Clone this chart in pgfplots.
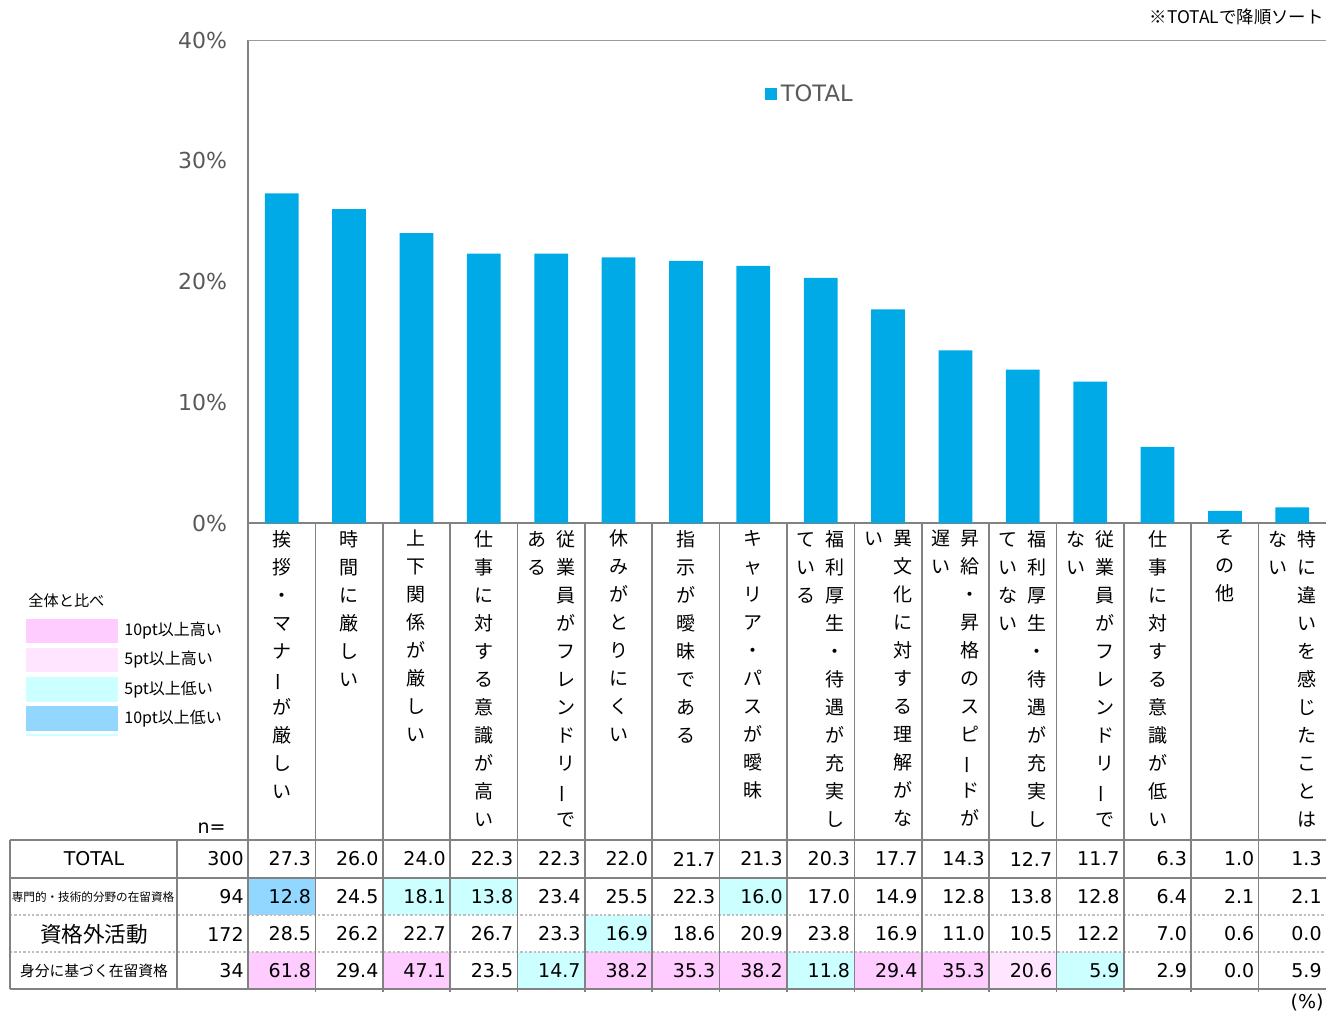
\documentclass[border=0pt]{standalone}
\usepackage{pgfplots}
\usepackage{pgfplotstable}
\pgfplotsset{compat=1.18}
\usepackage{fontspec}
\setmainfont{DejaVu Sans}
\newfontfamily\jp{Noto Sans CJK JP}

\definecolor{barblue}{RGB}{0,170,230}
\definecolor{tickgray}{RGB}{89,89,89}
\definecolor{linegray}{RGB}{130,130,130}
\definecolor{c0}{RGB}{255,255,255}
\definecolor{c1}{RGB}{255,204,255}
\definecolor{c2}{RGB}{255,229,255}
\definecolor{c3}{RGB}{204,255,255}
\definecolor{c4}{RGB}{145,215,255}

% vertical (tategaki) labels
\newcommand\vbar{\rotatebox[origin=c]{90}{ー}}
\def\vloop#1{\ifx\relax#1\else\hbox to 9.5pt{\hss#1\hss}\expandafter\vloop\fi}
\newcommand\vcol[1]{\vtop{\baselineskip=14pt\vloop#1\relax}}
\newcommand\vlab[2]{\hbox{\if\relax\detokenize{#1}\relax\else\vcol{#1}\hspace{5pt}\fi\vcol{#2}}}

% x: category, columns: TOTAL, 専門的・技術的, 資格外活動, 身分に基づく
\pgfplotstableread{
x total senmon gai mibun
0 27.3 12.8 28.5 61.8
1 26.0 24.5 26.2 29.4
2 24.0 18.1 22.7 47.1
3 22.3 13.8 26.7 23.5
4 22.3 23.4 23.3 14.7
5 22.0 25.5 16.9 38.2
6 21.7 22.3 18.6 35.3
7 21.3 16.0 20.9 38.2
8 20.3 17.0 23.8 11.8
9 17.7 14.9 16.9 29.4
10 14.3 12.8 11.0 35.3
11 12.7 13.8 10.5 20.6
12 11.7 12.8 12.2 5.9
13 6.3 6.4 7.0 2.9
14 1.0 2.1 0.6 0.0
15 1.3 2.1 0.0 5.9
}\data

\begin{document}
\begin{tikzpicture}
\begin{axis}[
  at={(124pt,-261.5pt)}, anchor=south west,
  scale only axis, width=539pt, height=241.5pt,
  xmin=-0.5, xmax=15.5, ymin=0, ymax=40,
  axis x line*=bottom, axis y line*=left,
  axis line style={linegray, line width=0.6pt, -},
  major tick length=0pt,
  ytick={0,10,20,30,40},
  yticklabels={0\%,10\%,20\%,30\%,40\%},
  yticklabel style={font=\fontsize{11}{13}\selectfont, text=tickgray, xshift=-7pt},
  xtick={0,...,15},
  xticklabels={
    {\vlab{}{挨拶・マナ\vbar が厳しい}},
    {\vlab{}{時間に厳しい}},
    {\vlab{}{上下関係が厳しい}},
    {\vlab{}{仕事に対する意識が高い}},
    {\vlab{ある}{従業員がフレンドリ\vbar で}},
    {\vlab{}{休みがとりにくい}},
    {\vlab{}{指示が曖昧である}},
    {\vlab{}{キャリア・パスが曖昧}},
    {\vlab{ている}{福利厚生・待遇が充実し}},
    {\vlab{い}{異文化に対する理解がな}},
    {\vlab{遅い}{昇給・昇格のスピ\vbar ドが}},
    {\vlab{ていない}{福利厚生・待遇が充実し}},
    {\vlab{ない}{従業員がフレンドリ\vbar で}},
    {\vlab{}{仕事に対する意識が低い}},
    {\vlab{}{その他}},
    {\vlab{ない}{特に違いを感じたことは}}},
  xticklabel style={font=\jp\fontsize{9.5}{14}\selectfont},
  legend style={at={(0.522,0.888)}, anchor=center, draw=none, fill=none,
    font=\fontsize{11.3}{13}\selectfont, text=tickgray},
  legend image code/.code={\fill[barblue] (-2pt,-3pt) rectangle (4pt,3pt);},
]
\addplot[ybar, bar width=0.5, fill=barblue, draw=none] table[x=x, y=total]{\data};
\addlegendentry{TOTAL}
\draw[linegray!80, line width=0.6pt] (rel axis cs:0,1) -- (rel axis cs:1,1);
\end{axis}

\begin{scope}[x=0.5pt, y=-0.5pt]
  % table cells
  \foreach \i in {0,...,15}{
    \pgfplotstablegetelem{\i}{total}\of\data \let\vT\pgfplotsretval
    \pgfmathsetmacro\xl{248+67.375*\i}
    \pgfmathsetmacro\xr{\xl+67.375}
    \node[anchor=east, font=\fontsize{9.5}{11}\selectfont, inner sep=0pt] at (\xr-4,859) {\vT};
    \foreach \col/\ya/\yb in {senmon/878/915, gai/915/952, mibun/952/989}{
      \pgfplotstablegetelem{\i}{\col}\of\data \let\vS\pgfplotsretval
      \pgfmathsetmacro\dd{\vS-\vT}
      \pgfmathtruncatemacro\code{\dd>=10 ? 1 : (\dd>=5 ? 2 : (\dd<=-10 ? 4 : (\dd<=-5 ? 3 : 0)))}
      \fill[c\code] (\xl,\ya) rectangle (\xr,\yb);
      \node[anchor=east, font=\fontsize{9.5}{11}\selectfont, inner sep=0pt] at (\xr-4,{(\ya+\yb)/2}) {\vS};
    }
  }
  % grid
  \draw[linegray, line width=0.8pt] (10,840) -- (1326,840) (10,878) -- (1326,878) (10,989) -- (1326,989);
  \draw[gray!50, line width=1.2pt, densely dotted] (10,915) -- (1326,915) (10,952) -- (1326,952);
  \draw[linegray, line width=0.8pt] (10,840) -- (10,989) (177,840) -- (177,989) (248,523) -- (248,989);
  \foreach \k in {1,...,15}{
    \draw[linegray, line width=0.8pt] ({248+67.375*\k},523) -- ({248+67.375*\k},992);
  }
  % row labels and n
  \node[font=\fontsize{9.5}{11}\selectfont] at (94,859) {TOTAL};
  \node[font=\jp\fontsize{5.8}{7}\selectfont] at (93,897) {専門的・技術的分野の在留資格};
  \node[font=\jp\fontsize{10.8}{12}\selectfont] at (94,934) {資格外活動};
  \node[font=\jp\fontsize{7.4}{9}\selectfont] at (94,971) {身分に基づく在留資格};
  \foreach \n/\y in {300/859, 94/897, 172/934, 34/971}{
    \node[anchor=east, font=\fontsize{9.5}{11}\selectfont, inner sep=0pt] at (244,\y) {\n};
  }
  \node[anchor=east, font=\fontsize{9.5}{11}\selectfont, inner sep=0pt] at (226,828) {n=};
  \node[anchor=east, font=\fontsize{9.5}{11}\selectfont, inner sep=0pt] at (1324,1003) {(\%)};
  \node[anchor=east, font=\jp\fontsize{8.7}{10}\selectfont, inner sep=0pt] at (1324,17) {※TOTALで降順ソート};
  % colour key
  \node[anchor=west, font=\jp\fontsize{7.6}{9}\selectfont, inner sep=0pt] at (28,601) {全体と比べ};
  \foreach \c/\ya/\yb/\t in {c1/619/643/10pt以上高い, c2/648/672/5pt以上高い, c3/677/702/5pt以上低い, c4/706/731/10pt以上低い}{
    \fill[\c] (26,\ya) rectangle (118,\yb);
    \node[anchor=west, font=\jp\fontsize{8}{9}\selectfont, inner sep=0pt] at (124,{(\ya+\yb)/2}) {\t};
  }
  \draw[c3, line width=0.6pt] (26,735) -- (118,735);
  \pgfresetboundingbox
  \path[use as bounding box] (0,0) rectangle (1326,1014);
\end{scope}
\end{tikzpicture}
\end{document}
